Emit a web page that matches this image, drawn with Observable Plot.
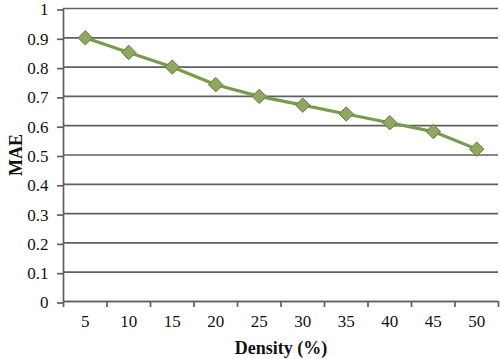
<!DOCTYPE html>
<html><head><meta charset="utf-8">
<script src="https://cdn.jsdelivr.net/npm/d3@7"></script>
<script src="https://cdn.jsdelivr.net/npm/@observablehq/plot@0.6"></script>
<style>
body{margin:0;background:#fff}
svg{display:block}
svg text{font-family:"Liberation Serif","Times New Roman",serif !important;fill:#111}
g[aria-label="y-axis label"] text, g[aria-label="x-axis label"] text{font-weight:bold;font-size:18px}
</style>
</head><body><div id="chart"></div>
<script>
const densities = [5, 10, 15, 20, 25, 30, 35, 40, 45, 50];
const mae = [0.90, 0.85, 0.80, 0.74, 0.70, 0.67, 0.64, 0.61, 0.58, 0.52];
const yTicks = [0, 0.1, 0.2, 0.3, 0.4, 0.5, 0.6, 0.7, 0.8, 0.9, 1];

const data = densities.map((d, i) => ({density: d, mae: mae[i]}));
const step = densities[1] - densities[0];
const boundaries = densities.map(d => d - step / 2).concat([densities[densities.length - 1] + step / 2]);

const axisColor = "#5f5f5f";
const chart = Plot.plot({
  width: 500, height: 359,
  marginLeft: 63, marginRight: 2, marginTop: 8, marginBottom: 58,
  style: {fontFamily: "Liberation Serif", fontSize: "17px", color: "#111", background: "#fff"},
  x: {domain: [boundaries[0], boundaries[boundaries.length - 1]]},
  y: {domain: [0, 1]},
  marks: [
    Plot.gridY(yTicks, {stroke: axisColor, strokeOpacity: 1, strokeWidth: 1.7}),
    Plot.axisY(yTicks, {tickSize: 6, tickPadding: 9, dy: 1.5, stroke: axisColor, strokeWidth: 1.7,
      tickFormat: d => String(+d.toFixed(1)),
      label: "MAE", labelAnchor: "center", labelOffset: 54, labelArrow: "none"}),
    Plot.axisX(boundaries, {tickSize: 6, tickFormat: () => "", stroke: axisColor, strokeWidth: 1.7, label: null}),
    Plot.axisX(densities, {tickSize: 0, tickPadding: 13,
      label: "Density (%)", labelAnchor: "center", labelOffset: 52, labelArrow: "none"}),
    Plot.ruleX([boundaries[0]], {stroke: axisColor, strokeWidth: 1.7}),
    Plot.ruleY([0], {stroke: axisColor, strokeWidth: 1.7}),
    Plot.line(data, {x: "density", y: "mae", stroke: "#7c9a4e", strokeWidth: 3.2}),
    Plot.dot(data, {x: "density", y: "mae", symbol: "diamond2", r: 6.5, fill: "#8ea862", stroke: "#657f3c", strokeWidth: 1})
  ]
});
document.getElementById("chart").append(chart);
</script>
</body></html>
